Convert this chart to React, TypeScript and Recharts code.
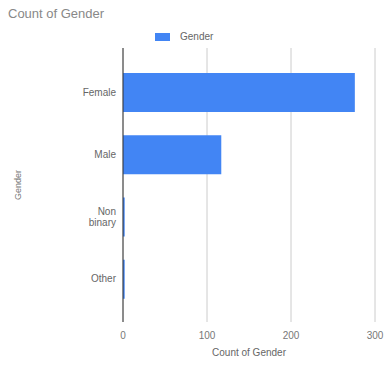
import React from 'react';
import { BarChart, Bar, XAxis, YAxis, CartesianGrid, Legend, Label } from 'recharts';

const categories = ['Female', 'Male', 'Non binary', 'Other'];
const counts = [276, 117, 2, 2];
const xTicks = [0, 100, 200, 300];

const data = categories.map((c, i) => ({ gender: c, count: counts[i] }));

const FONT = 'Liberation Sans, Arial, sans-serif';

const YTick = (props: any) => {
  const { x, y, payload } = props;
  const words = payload.value === 'Non binary' ? ['Non', 'binary'] : [payload.value];
  const lh = 11;
  const start = -((words.length - 1) * lh) / 2;
  return (
    <text x={x} y={y} textAnchor="end" fill="#666" fontSize={10} fontFamily={FONT}>
      {words.map((w: string, i: number) => (
        <tspan key={i} x={x} dy={i === 0 ? start + 3.5 : lh}>{w}</tspan>
      ))}
    </text>
  );
};

const LegendContent = () => (
  <div style={{ display: 'flex', alignItems: 'center', fontFamily: FONT, fontSize: 10, color: '#666' }}>
    <span style={{ display: 'inline-block', width: 15, height: 8, background: '#4285f4', marginRight: 10 }} />
    <span>Gender</span>
  </div>
);

export default function App() {
  return (
    <div style={{ position: 'fixed', left: 0, top: 0, width: 388, height: 367, background: '#fff' }}>
      <div style={{ position: 'absolute', left: 8, top: 6, fontFamily: FONT, fontSize: 13, color: '#888' }}>
        Count of Gender
      </div>
      <BarChart
        width={388}
        height={367}
        data={data}
        layout="vertical"
        margin={{ top: 48, right: 13, bottom: 0, left: 0 }}
        barSize={39}
      >
        <CartesianGrid horizontal={false} stroke="#ccc" />
        <XAxis
          type="number"
          domain={[0, 300]}
          ticks={xTicks}
          height={45}
          axisLine={false}
          tickLine={false}
          tick={{ fill: '#777', fontSize: 10, fontFamily: FONT }}
          tickMargin={4}
        >
          <Label value="Count of Gender" position="insideBottom" offset={11} fill="#666" fontSize={10} fontFamily={FONT} />
        </XAxis>
        <YAxis
          type="category"
          dataKey="gender"
          width={123}
          axisLine={{ stroke: '#333' }}
          tickLine={false}
          tick={<YTick />}
          tickMargin={1}
          padding={{ top: 13, bottom: 12 }}
        >
          <Label value="Gender" angle={-90} position="insideLeft" offset={18} fill="#777" fontSize={9} fontFamily={FONT} style={{ textAnchor: 'middle' }} />
        </YAxis>
        <Legend
          verticalAlign="middle"
          content={<LegendContent />}
          wrapperStyle={{ top: 31, left: 155, width: 120 }}
        />
        <Bar dataKey="count" name="Gender" fill="#4285f4" isAnimationActive={false} />
      </BarChart>
    </div>
  );
}
